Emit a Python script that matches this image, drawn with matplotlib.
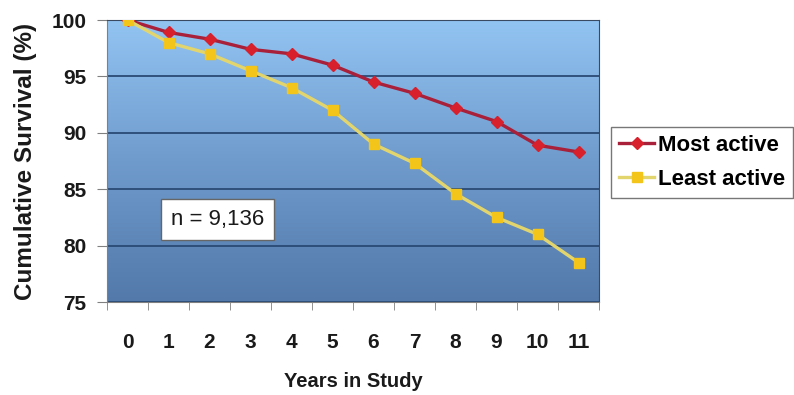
import numpy as np
import matplotlib
matplotlib.use("Agg")
import matplotlib.pyplot as plt
from matplotlib.colors import LinearSegmentedColormap

years = list(range(12))
most_active = [100, 98.9, 98.3, 97.4, 97.0, 96.0, 94.5, 93.5, 92.2, 91.0, 88.9, 88.3]
least_active = [100, 98.0, 97.0, 95.5, 94.0, 92.0, 89.0, 87.3, 84.6, 82.5, 81.0, 78.5]
y_ticks = [75, 80, 85, 90, 95, 100]

plt.rcParams['font.family'] = ['Liberation Sans', 'DejaVu Sans']

fig = plt.figure(figsize=(7.94, 3.95), dpi=100)
ax = fig.add_axes([107 / 794, 1 - 302 / 395, 492 / 794, 282 / 395])

# gradient background, light on top, darker at the bottom
grad = np.linspace(1, 0, 256).reshape(-1, 1)
cmap = LinearSegmentedColormap.from_list('bg', ['#5279aa', '#6f9bcc', '#92c4f2'])
ax.imshow(grad, cmap=cmap, aspect='auto', extent=[0, 1, 0, 1],
          transform=ax.transAxes, zorder=0)

for yv in y_ticks:
    ax.axhline(yv, color='#2a4a74', lw=1.3, zorder=1)

ax.plot(years, most_active, color='#a8203a', lw=2.4, marker='D', ms=6.5,
        mfc='#d8202c', mec='#d8202c', label='Most active', zorder=3)
ax.plot(years, least_active, color='#e3d56e', lw=2.4, marker='s', ms=7,
        mfc='#f3c51a', mec='#f3c51a', label='Least active', zorder=3)

ax.set_xlim(-0.5, 11.5)
ax.set_ylim(75, 100)
ax.set_yticks(y_ticks)
ax.set_xticks(years)
ax.set_xticks(np.arange(-0.5, 12, 1), minor=True)
for lab in ax.get_xticklabels() + ax.get_yticklabels():
    lab.set_fontweight('bold')
ax.tick_params(axis='x', which='major', length=0, pad=22, labelsize=15, labelcolor='#1a1a1a')
ax.tick_params(axis='x', which='minor', length=6, color='#808080', direction='out')
ax.tick_params(axis='y', length=7, color='#808080', labelsize=15, pad=8, labelcolor='#1a1a1a')

for side in ['top', 'right']:
    ax.spines[side].set_color('#3a4a60')
ax.spines['left'].set_color('#808080')
ax.spines['bottom'].set_color('#808080')

ax.set_xlabel('Years in Study', fontsize=14.5, fontweight='bold', color='#1a1a1a', labelpad=15)
ax.set_ylabel('Cumulative Survival (%)', fontsize=17.5, fontweight='bold', color='#1a1a1a', labelpad=10)

ax.text(2.2, 82.3, 'n = 9,136', fontsize=16, va='center', ha='center', zorder=4,
        color='#1a1a1a',
        bbox=dict(boxstyle='square,pad=0.45', fc='white', ec='#666666', lw=1))

ax.legend(loc='upper left', bbox_to_anchor=(611 / 492 - 107 / 492, 1 - 107 / 282), frameon=True,
          fancybox=False, edgecolor='#555555', prop={'weight': 'bold', 'size': 16},
          handlelength=1.6, handletextpad=0.15, borderpad=0.35, labelspacing=0.6,
          borderaxespad=0)

fig.savefig('out.png', dpi=100)
